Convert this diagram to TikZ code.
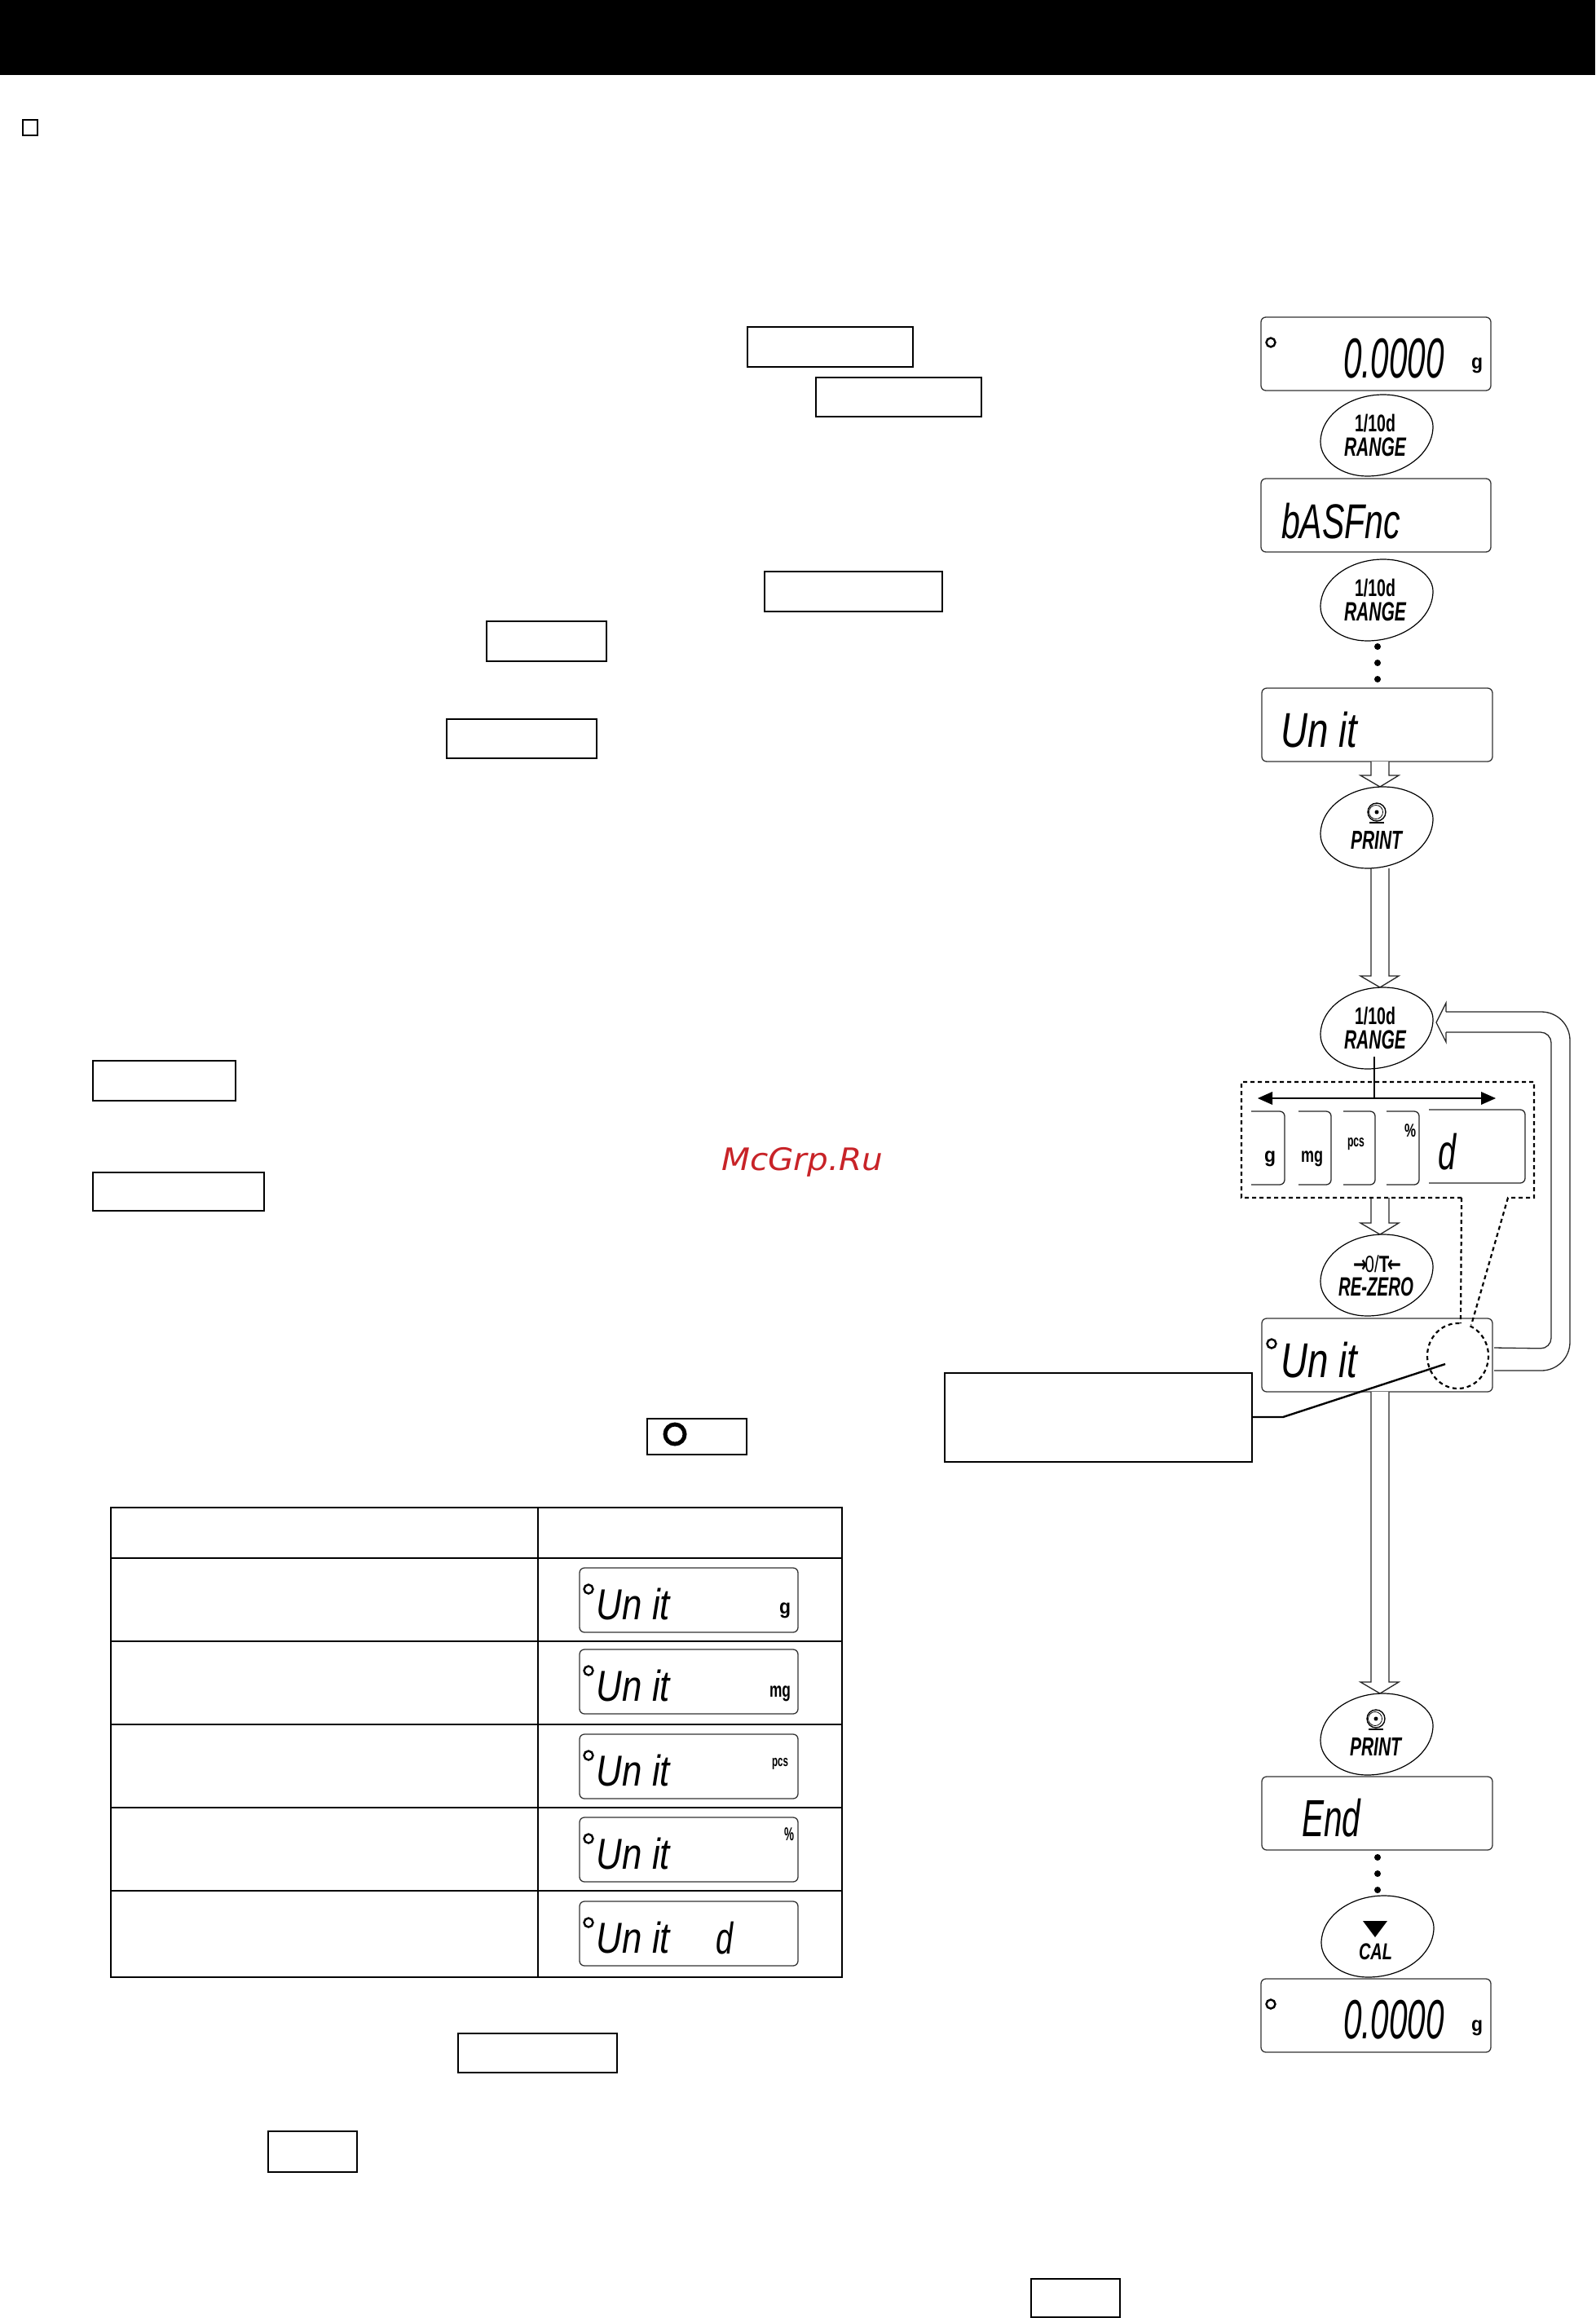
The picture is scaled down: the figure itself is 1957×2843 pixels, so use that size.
\documentclass[tikz,border=0pt]{standalone}
\usepackage{fontspec}
\usepackage{graphicx}
\usetikzlibrary{calc}
\setmainfont{Liberation Sans}
\newfontfamily\wmfont{DejaVu Sans}
\definecolor{wmred}{RGB}{200,35,40}
\tikzset{
  emptybox/.style={draw=black,line width=2.6pt,fill=white,inner sep=0pt,outer sep=0pt},
  lcdbox/.style={draw=black!80,line width=1.3pt,rounded corners=6pt,fill=white,inner sep=0pt,outer sep=0pt},
  btnbox/.style={inner sep=0pt,outer sep=0pt,minimum width=138pt,minimum height=100pt},
  btnline/.style={draw=black,line width=1.2pt,fill=white},
  blockline/.style={draw=black!85,line width=1.3pt,fill=white},
  blockopen/.style={draw=black!85,line width=1.3pt},
  leader/.style={draw=black,line width=2.4pt},
  dashline/.style={draw=black,line width=2.2pt,dash pattern=on 5pt off 4pt},
  marker/.style={draw=black,line width=2.4pt},
  tablerule/.style={draw=black,line width=2.4pt},
  glyphnode/.style={inner sep=0pt,outer sep=0pt,anchor=center},
}
% an empty labelled box
\newcommand\emptyrect[5]{%
  \node[emptybox,minimum width={((#4)-(#2))*1pt},minimum height={((#5)-(#3))*1pt}] (#1) at ({(#2+#4)/2},{(#3+#5)/2}) {};}
% a display
\newcommand\lcd[5]{%
  \node[lcdbox,minimum width={((#4)-(#2))*1pt},minimum height={((#5)-(#3))*1pt}] (#1) at ({(#2+#4)/2},{(#3+#5)/2}) {};}
% text fitted to an exact area: name, x1, y1, x2, y2, text
\newcommand\fitted[6]{%
  \pgfmathsetmacro\gw{(#4)-(#2)}\pgfmathsetmacro\gh{(#5)-(#3)}%
  \node[glyphnode] (#1) at ({(#2+#4)/2},{(#3+#5)/2}) {\resizebox*{\gw pt}{\gh pt}{#6}};}
% an egg-shaped key: name, cx, cy
\newcommand\keybtn[3]{%
  \draw[btnline,shift={(#2,#3)}] (8,-50) .. controls (41,-50) and (69,-32) .. (69,-11)
     .. controls (69,22.5) and (32.5,50) .. (-12,50)
     .. controls (-43,50) and (-69,31) .. (-69,8)
     .. controls (-69,-24) and (-34,-50) .. (8,-50) -- cycle;
  \node[btnbox] (#1) at (#2,#3) {};}
% hollow arrow from one named node to another, on the common axis
\newcommand\blockarrow[2]{%
  \path (#1.south -| axis) coordinate (ba) (#2.north -| axis) coordinate (bb);
  \draw[blockline] ($(ba)+(-11,0)$) -- ($(bb)+(-11,-14)$) -- ($(bb)+(-24,-14)$) -- (bb)
     -- ($(bb)+(23,-14)$) -- ($(bb)+(11,-14)$) -- ($(ba)+(11,0)$);}
\newcommand\rangetext[3]{%
  \fitted{#1a}{#2-25}{#3-26}{#2+25}{#3-4}{\bfseries 1/10d}
  \fitted{#1b}{#2-38}{#3+3}{#2+38}{#3+26}{\bfseries\itshape RANGE}}
\newcommand\printtext[3]{%
  \draw[line width=1.4pt] (#2,#3-19) circle[radius=11pt];
  \draw[line width=.8pt] (#2-1,#3-19) circle[radius=8.5pt];
  \fill (#2,#3-19) circle[radius=2.5pt];
  \draw[line width=1.6pt] (#2-9,#3-6) -- (#2+9,#3-6);
  \fitted{#1}{#2-32}{#3+4}{#2+31}{#3+26}{\bfseries\itshape PRINT}}
% "Unit" display of the table: name, top
\newcommand\unitrow[2]{%
  \lcd{#1}{711}{#2}{979}{#2+79}
  \draw[marker] (722,#2+26) circle[radius=5.5pt];
  \fitted{#1t}{732}{#2+25}{822}{#2+64}{\itshape Un it}}
\begin{document}
\begin{tikzpicture}[x=1pt,y=-1pt]
\useasboundingbox (0,0) rectangle (1957,2843);
\fill[white] (0,0) rectangle (1957,2843);
\coordinate (axis) at (1693,0);
% header band and bullet
\fill[black] (0,0) rectangle (1957,92);
\draw[line width=1.4pt] (28,147) rectangle (46,166);
% empty labelled boxes
\emptyrect{boxa}{917}{401}{1120}{450}
\emptyrect{boxb}{1001}{463}{1204}{511}
\emptyrect{boxc}{938}{701}{1156}{750}
\emptyrect{boxd}{597}{762}{744}{811}
\emptyrect{boxe}{548}{882}{732}{930}
\emptyrect{boxf}{114}{1301}{289}{1350}
\emptyrect{boxg}{114}{1438}{324}{1485}
\emptyrect{boxh}{794}{1740}{916}{1784}
\draw[line width=5pt] (828,1759) circle[radius=12pt];
\emptyrect{boxi}{562}{2494}{757}{2542}
\emptyrect{boxj}{329}{2614}{438}{2664}
\emptyrect{boxk}{1265}{2795}{1374}{2842}
% watermark
\node[glyphnode,text=wmred] (wm) at (984,1425) {\resizebox*{198pt}{36pt}{\wmfont\itshape McGrp.Ru}};
% table
\draw[tablerule] (136,1849) rectangle (1033,2425);
\foreach \yy in {1911,2013,2115,2217,2319} {\draw[tablerule] (136,\yy) -- (1033,\yy);}
\draw[tablerule] (660,1849) -- (660,2425);
\unitrow{rowg}{1923}
\fitted{rowgu}{956}{1966}{970}{1985}{\bfseries g}
\unitrow{rowm}{2023}
\fitted{rowmu}{944}{2068}{970}{2087}{\bfseries mg}
\unitrow{rowp}{2127}
\fitted{rowpu}{947}{2156}{967}{2170}{\bfseries pcs}
\unitrow{rowc}{2229}
\fitted{rowcu}{962}{2242}{974}{2258}{\bfseries \%}
\unitrow{rowd}{2332}
\fitted{rowdu}{878}{2357}{899}{2397}{\itshape d}
% flow: displays
\lcd{lcda}{1547}{389}{1829}{479}
\lcd{lcdb}{1547}{587}{1829}{677}
\lcd{lcdc}{1548}{844}{1831}{934}
\lcd{lcdd}{1548}{1617}{1831}{1707}
\lcd{lcde}{1548}{2179}{1831}{2269}
\lcd{lcdf}{1547}{2427}{1829}{2517}
\node[inner sep=0pt,outer sep=0pt,minimum width=359pt,minimum height=142pt] (sel) at (1702.5,1398) {};
\node[btnbox] (prkey) at (1689,1015) {};
\node[btnbox] (rga) at (1689,534) {};
\node[btnbox] (rgb) at (1689,736) {};
\node[btnbox] (rgc) at (1689,1261) {};
\node[btnbox] (rezero) at (1689,1564) {};
\node[btnbox] (prb) at (1689,2127) {};
\node[btnbox] (calk) at (1690,2375) {};
% hollow arrows
\blockarrow{lcdc}{prkey}
\blockarrow{prkey}{rgc}
\blockarrow{sel}{rezero}
\blockarrow{lcdd}{prb}
% return arrow
\coordinate (rtna) at ($(lcdd.east)+(2,-9)$);
\coordinate (rtnb) at ($(lcdd.east)+(2,19)$);
\draw[blockopen,rounded corners=35pt] (rtnb) -- (1926,1681) -- (1926,1241) -- (1774,1241);
\draw[blockopen,rounded corners=13pt] (rtna) -- (1903,1654) -- (1903,1266) -- (1774,1266);
\draw[blockopen] (1774,1241) -- (1774,1230) -- (1762,1254) -- (1774,1278) -- (1774,1266);
% keys
\keybtn{rga}{1689}{534}
\rangetext{rgat}{1687}{534}
\keybtn{rgb}{1689}{736}
\rangetext{rgbt}{1687}{736}
\keybtn{prkey}{1689}{1015}
\printtext{prat}{1689}{1015}
\keybtn{rgc}{1689}{1261}
\rangetext{rgct}{1687}{1261}
\keybtn{rezero}{1689}{1564}
\fitted{rzb}{1660}{1540}{1719}{1561}{\wmfont\bfseries →\hspace{-.12em}{\fontspec{Liberation Sans}\mdseries 0/}{\fontspec{Liberation Sans}\bfseries T}\hspace{-.12em}←}
\fitted{rzc}{1642}{1567}{1734}{1590}{\bfseries\itshape RE-ZERO}
\keybtn{prb}{1689}{2127}
\printtext{prbt}{1688}{2127}
\keybtn{calk}{1690}{2375}
\fill (1672,2356) -- (1702,2356) -- (1687,2376) -- cycle;
\fitted{calt}{1667}{2384}{1708}{2404}{\bfseries\itshape CAL}
% display contents
\draw[marker] (1559,420) circle[radius=5.5pt];
\fitted{ta}{1648}{415}{1772}{464}{\itshape 0.0000}
\fitted{tag}{1805}{439}{1819}{458}{\bfseries g}
\fitted{tb}{1572}{617}{1718}{661}{\itshape bASFnc}
\fitted{tc}{1571}{873}{1665}{917}{\itshape Un it}
\draw[marker] (1560,1648) circle[radius=5.5pt];
\fitted{td}{1571}{1646}{1665}{1690}{\itshape Un it}
\fitted{te}{1597}{2206}{1669}{2253}{\itshape End}
\draw[marker] (1559,2458) circle[radius=5.5pt];
\fitted{tf}{1648}{2453}{1772}{2501}{\itshape 0.0000}
\fitted{tfg}{1805}{2478}{1819}{2497}{\bfseries g}
% dotted selection frame with the unit fragments
\draw[line width=1.3pt,draw=black!85,rounded corners=6pt] (1535,1363) -- (1576,1363) -- (1576,1453) -- (1535,1453);
\draw[line width=1.3pt,draw=black!85,rounded corners=6pt] (1593,1363) -- (1633,1363) -- (1633,1453) -- (1593,1453);
\draw[line width=1.3pt,draw=black!85,rounded corners=6pt] (1648,1363) -- (1687,1363) -- (1687,1453) -- (1648,1453);
\draw[line width=1.3pt,draw=black!85,rounded corners=6pt] (1701,1363) -- (1741,1363) -- (1741,1453) -- (1701,1453);
\draw[line width=1.3pt,draw=black!85,rounded corners=6pt] (1753,1361) -- (1871,1361) -- (1871,1451) -- (1753,1451);
\fitted{fa}{1551}{1412}{1565}{1431}{\bfseries g}
\fitted{fb}{1596}{1412}{1623}{1431}{\bfseries mg}
\fitted{fc}{1653}{1396}{1674}{1411}{\bfseries pcs}
\fitted{fd}{1723}{1379}{1737}{1395}{\bfseries \%}
\fitted{fe}{1764}{1390}{1786}{1435}{\itshape d}
\draw[dashline] (1793,1469) -- (sel.south west) -- (sel.north west) -- (sel.north east) -- (sel.south east) -- (1850,1469) -- (1805,1625);
\draw[dashline] (1793,1469) -- (1792,1623);
\draw[dashline] plot[domain=-66.5:275,samples=70,smooth] ({1788.5+37.5*cos(\x)},{1663+40*sin(\x)});
% range arrows
\coordinate (rgtop) at ($(rgc.south)+(-3,-15)$);
\draw[line width=2.5pt] (rgtop) -- (1686,1347);
\draw[line width=2.5pt] (1555,1347) -- (1823,1347);
\fill (1543,1347) -- (1561,1339) -- (1561,1355) -- cycle;
\fill (1835,1347) -- (1817,1339) -- (1817,1355) -- cycle;
% dots
\foreach \yy in {793,813,833,2278,2298,2318} {\fill (1690,\yy) circle[radius=4pt];}
% callout
\emptyrect{note}{1159}{1684}{1536}{1793}
\coordinate (spot) at (1773,1673);
\draw[leader] (note.east |- 0,1738) -- (1574,1738) -- (spot);
\end{tikzpicture}
\end{document}
